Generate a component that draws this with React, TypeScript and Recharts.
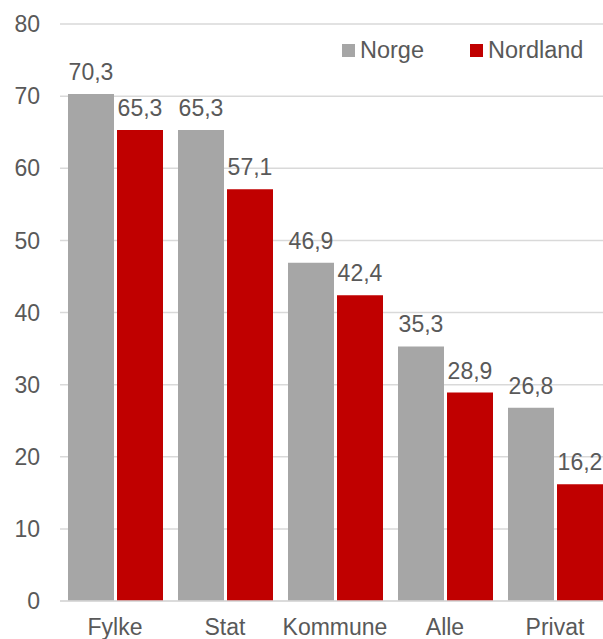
import { BarChart, Bar, XAxis, YAxis, CartesianGrid, LabelList } from 'recharts';

const categories = ['Fylke', 'Stat', 'Kommune', 'Alle', 'Privat'];
const norge = [70.3, 65.3, 46.9, 35.3, 26.8];
const nordland = [65.3, 57.1, 42.4, 28.9, 16.2];
const yTicks = [0, 10, 20, 30, 40, 50, 60, 70, 80];

const GREY = '#a6a6a6';
const RED = '#c00000';
const TEXT = '#595959';
const FONT = '"Liberation Sans", Arial, sans-serif';

const chartData = categories.map((name, i) => ({
  name,
  norge: norge[i],
  nordland: nordland[i],
}));

// Norwegian decimal comma
const fmt = (v: number) => v.toFixed(1).replace('.', ',');

const legendItems = [
  { label: 'Norge', color: GREY },
  { label: 'Nordland', color: RED },
];

function LegendBox() {
  return (
    <div
      style={{
        position: 'absolute', top: 38, left: 342,
        display: 'flex', alignItems: 'center',
        fontFamily: FONT, fontSize: 23.5, color: TEXT,
      }}
    >
      {legendItems.map((it, i) => (
        <div key={it.label} style={{ display: 'flex', alignItems: 'center', marginRight: i === 0 ? 46 : 0 }}>
          <span style={{ width: 13, height: 13, background: it.color, display: 'inline-block', marginRight: 5 }} />
          <span style={{ lineHeight: '24px' }}>{it.label}</span>
        </div>
      ))}
    </div>
  );
}

function App() {
  return (
    <div style={{ position: 'fixed', top: 0, left: 0, width: 603, height: 639, overflow: 'hidden', background: '#fff' }}>
      <BarChart
        width={610}
        height={639}
        data={chartData}
        margin={{ top: 24, right: 0, bottom: 0, left: 0 }}
        barSize={46}
        barGap={3}
        style={{ fontFamily: FONT }}
      >
        <CartesianGrid vertical={false} stroke="#d9d9d9" strokeWidth={1.5} />
        <XAxis
          dataKey="name"
          height={38}
          tickSize={0}
          tickMargin={18}
          axisLine={{ stroke: '#d9d9d9', strokeWidth: 1.5 }}
          tickLine={false}
          tick={{ fill: TEXT, fontSize: 23 }}
        />
        <YAxis
          width={60}
          domain={[0, 80]}
          ticks={yTicks}
          tickSize={0}
          tickMargin={20}
          axisLine={false}
          tickLine={false}
          tick={{ fill: TEXT, fontSize: 23 }}
        />
        <Bar dataKey="norge" name="Norge" fill={GREY} isAnimationActive={false}>
          <LabelList dataKey="norge" position="top" offset={14} formatter={(v: any) => fmt(Number(v))} fill={TEXT} fontSize={23} />
        </Bar>
        <Bar dataKey="nordland" name="Nordland" fill={RED} isAnimationActive={false}>
          <LabelList dataKey="nordland" position="top" offset={14} formatter={(v: any) => fmt(Number(v))} fill={TEXT} fontSize={23} />
        </Bar>
      </BarChart>
      <LegendBox />
    </div>
  );
}

export default App;
